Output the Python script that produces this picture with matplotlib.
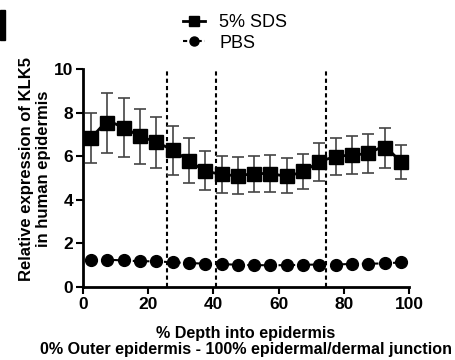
import matplotlib
matplotlib.use("Agg")
import matplotlib.pyplot as plt
import numpy as np
from matplotlib.path import Path
from matplotlib.patches import PathPatch, Rectangle

plt.rcParams['font.family'] = ['Liberation Sans', 'DejaVu Sans']

depth = [2.5, 7.5, 12.5, 17.5, 22.5, 27.5, 32.5, 37.5, 42.5, 47.5,
         52.5, 57.5, 62.5, 67.5, 72.5, 77.5, 82.5, 87.5, 92.5, 97.5]
sds_mean = [6.84, 7.53, 7.30, 6.92, 6.64, 6.27, 5.79, 5.34, 5.18, 5.11,
            5.20, 5.19, 5.11, 5.30, 5.73, 5.98, 6.05, 6.14, 6.38, 5.73]
sds_err = [1.14, 1.38, 1.35, 1.26, 1.17, 1.13, 1.04, 0.90, 0.85, 0.84,
           0.83, 0.85, 0.81, 0.81, 0.86, 0.85, 0.87, 0.89, 0.93, 0.77]
pbs_mean = [1.22, 1.25, 1.22, 1.18, 1.18, 1.13, 1.10, 1.07, 1.05, 1.02,
            1.00, 1.00, 1.00, 1.02, 1.03, 1.03, 1.06, 1.07, 1.08, 1.13]
vlines = [25.9, 40.7, 74.4]
xticks = [0, 20, 40, 60, 80, 100]
yticks = [0, 2, 4, 6, 8, 10]

fig = plt.figure(figsize=(4.55, 3.6), dpi=100)
ax = fig.add_axes([83/455, 1 - 287/360, (409-83)/455, (287-69)/360])

# Error bars
ax.errorbar(depth, sds_mean, yerr=sds_err, fmt='none', ecolor='#444444',
            elinewidth=1.2, capsize=4.5, capthick=1.2, zorder=2)

# Smooth curve through SDS means (Catmull-Rom -> cubic Bezier)
x = np.array(depth); y = np.array(sds_mean)
verts = [(x[0], y[0])]; codes = [Path.MOVETO]
for i in range(len(x) - 1):
    p0 = (x[i-1], y[i-1]) if i > 0 else (x[i], y[i])
    p1 = (x[i], y[i]); p2 = (x[i+1], y[i+1])
    p3 = (x[i+2], y[i+2]) if i + 2 < len(x) else (x[i+1], y[i+1])
    c1 = (p1[0] + (p2[0]-p0[0])/6, p1[1] + (p2[1]-p0[1])/6)
    c2 = (p2[0] - (p3[0]-p1[0])/6, p2[1] - (p3[1]-p1[1])/6)
    verts += [c1, c2, p2]; codes += [Path.CURVE4]*3
ax.add_patch(PathPatch(Path(verts, codes), fill=False, lw=2, ec='black', zorder=3))
ax.plot(depth, sds_mean, ls='none', marker='s', ms=9.5, color='black', zorder=4)

ax.plot(depth, pbs_mean, ls=(0, (3, 2)), lw=1.5, marker='o', ms=8.5,
        color='black', zorder=4)

for v in vlines:
    ax.plot([v, v], [0, 10], ls=(0, (2, 1.5)), lw=1.5, color='black', zorder=1)

# Legend proxies
h1, = ax.plot([], [], ls='-', lw=2, marker='s', ms=7, color='black')
h2, = ax.plot([], [], ls=(0, (2, 1.5)), lw=1.5, marker='o', ms=6.5, color='black')
fig.legend([h1, h2], ['5% SDS', 'PBS'], loc='center', bbox_to_anchor=(235/455, 1 - 33/360),
           frameon=False, fontsize=13, handlelength=1.2, handletextpad=0.8,
           labelspacing=0.2)

ax.set_xlim(0, 100)
ax.set_ylim(0, 10)
ax.set_xticks(xticks)
ax.set_yticks(yticks)
for s in ['top', 'right']:
    ax.spines[s].set_visible(False)
for s in ['left', 'bottom']:
    ax.spines[s].set_linewidth(2)
ax.tick_params(width=1.5, length=5, labelsize=12.5, pad=2)
for lab in ax.get_xticklabels() + ax.get_yticklabels():
    lab.set_fontweight('bold')

ax.set_xlabel('% Depth into epidermis\n0% Outer epidermis - 100% epidermal/dermal junction',
              fontsize=11.6, fontweight='bold', labelpad=10, linespacing=1.15)
ax.set_ylabel('Relative expression of KLK5\nin human epidermis',
              fontsize=12, fontweight='bold', linespacing=1.2)
ax.yaxis.set_label_coords(-0.098, 0.54)

fig.patches.append(Rectangle((0, 1 - 40/360), 5/455, 30/360,
                             transform=fig.transFigure, color='black'))

fig.savefig('out.png', dpi=100)
